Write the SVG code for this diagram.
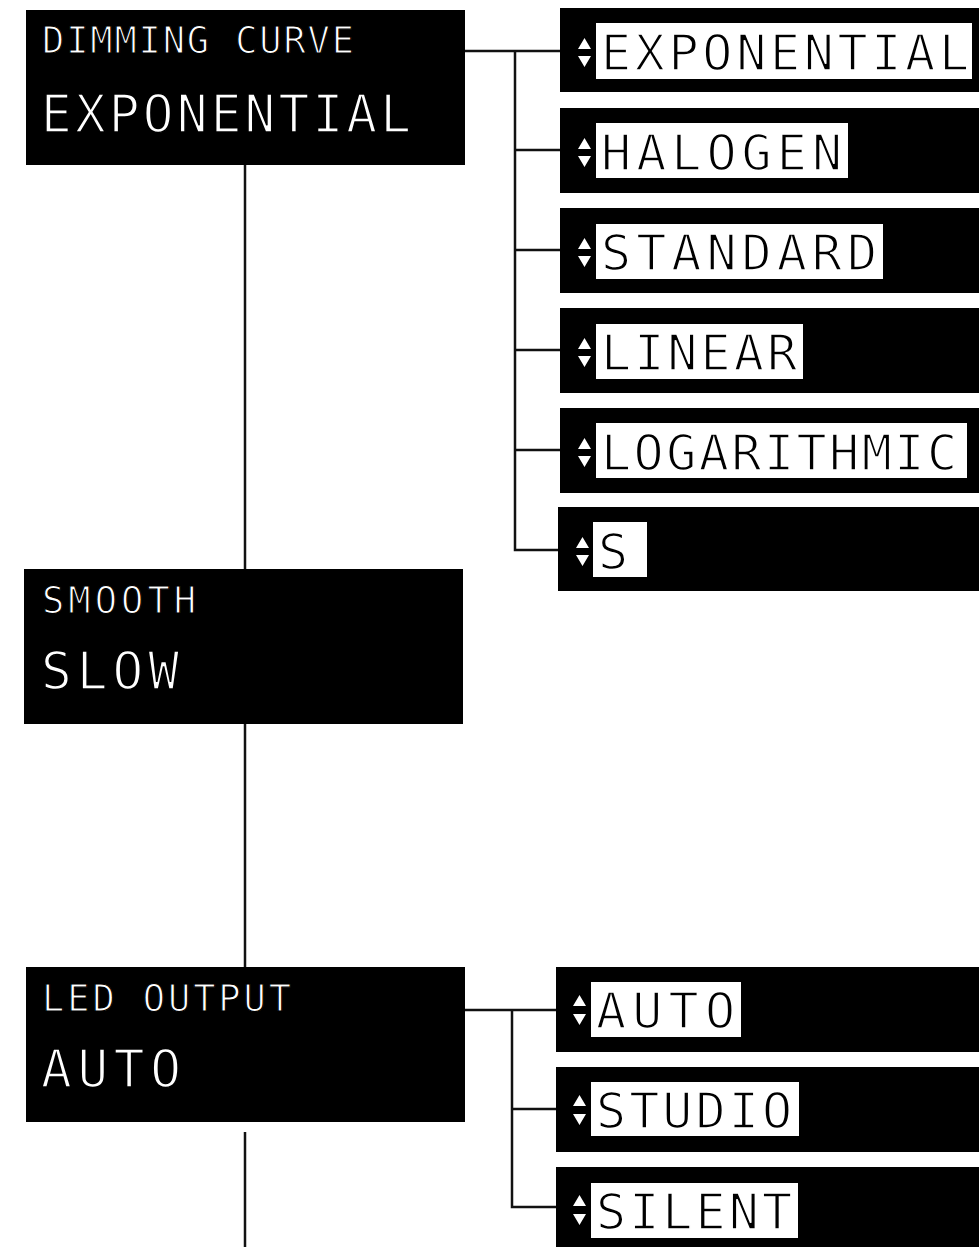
<svg xmlns="http://www.w3.org/2000/svg" width="979" height="1247" viewBox="0 0 979 1247">
<defs>
<style>
.box{fill:#000;}
.hl{fill:#fff;}
.ttl{font-family:"DejaVu Sans Mono","Liberation Mono",monospace;font-size:37px;fill:#fff;stroke:#000;stroke-width:1.2;}
.val{font-family:"DejaVu Sans Mono","Liberation Mono",monospace;font-size:51px;fill:#fff;stroke:#000;stroke-width:1.6;}
.opt{font-family:"DejaVu Sans Mono","Liberation Mono",monospace;font-size:50px;fill:#000;stroke:#fff;stroke-width:1.6;}
.arr{fill:#fff;}
.con{fill:none;stroke:#111;stroke-width:2.5;}
</style>
</defs>
<rect width="979" height="1247" fill="#fff"/>
<g id="connectors">
<path class="con" d="M245,165 V569 M245,724 V967 M245,1132 V1247"/>
<path class="con" d="M465,51 H560 M515,51 V550 H560 M515,150 H560 M515,250 H560 M515,350 H560 M515,450 H560"/>
<path class="con" d="M465,1010 H556 M512,1010 V1207 H556 M512,1109 H556"/>
</g>
<g id="dimming-curve">
<rect class="box" x="26" y="10" width="439" height="155"/>
<text class="ttl" x="42" y="53" textLength="312" lengthAdjust="spacing">DIMMING CURVE</text>
<text class="val" x="41" y="132" textLength="370" lengthAdjust="spacing">EXPONENTIAL</text>
</g>
<g id="smooth">
<rect class="box" x="24" y="569" width="439" height="155"/>
<text class="ttl" x="42" y="613" textLength="154" lengthAdjust="spacing">SMOOTH</text>
<text class="val" x="41" y="689" textLength="138" lengthAdjust="spacing">SLOW</text>
</g>
<g id="led-output">
<rect class="box" x="26" y="967" width="439" height="155"/>
<text class="ttl" x="42" y="1011" textLength="249" lengthAdjust="spacing">LED OUTPUT</text>
<text class="val" x="41" y="1087" textLength="140" lengthAdjust="spacing">AUTO</text>
</g>
<g id="opt-exponential">
<rect class="box" x="560" y="8" width="430" height="84"/>
<path class="arr" d="M578,49 L591,49 L584.5,38 Z M578,56 L591,56 L584.5,67 Z"/>
<rect class="hl" x="596" y="23" width="376" height="56"/>
<text class="opt" x="601" y="70" textLength="368" lengthAdjust="spacing">EXPONENTIAL</text>
</g>
<g id="opt-halogen">
<rect class="box" x="560" y="108" width="430" height="85"/>
<path class="arr" d="M578,149 L591,149 L584.5,138 Z M578,156 L591,156 L584.5,167 Z"/>
<rect class="hl" x="596" y="123" width="252" height="55"/>
<text class="opt" x="601" y="170" textLength="241" lengthAdjust="spacing">HALOGEN</text>
</g>
<g id="opt-standard">
<rect class="box" x="560" y="208" width="430" height="85"/>
<path class="arr" d="M578,249 L591,249 L584.5,238 Z M578,256 L591,256 L584.5,267 Z"/>
<rect class="hl" x="596" y="224" width="287" height="55"/>
<text class="opt" x="601" y="270" textLength="276" lengthAdjust="spacing">STANDARD</text>
</g>
<g id="opt-linear">
<rect class="box" x="560" y="308" width="430" height="85"/>
<path class="arr" d="M578,349 L591,349 L584.5,338 Z M578,356 L591,356 L584.5,367 Z"/>
<rect class="hl" x="596" y="324" width="207" height="55"/>
<text class="opt" x="601" y="370" textLength="196" lengthAdjust="spacing">LINEAR</text>
</g>
<g id="opt-logarithmic">
<rect class="box" x="560" y="408" width="430" height="85"/>
<path class="arr" d="M578,449 L591,449 L584.5,438 Z M578,456 L591,456 L584.5,467 Z"/>
<rect class="hl" x="596" y="423" width="371" height="55"/>
<text class="opt" x="601" y="470" textLength="356" lengthAdjust="spacing">LOGARITHMIC</text>
</g>
<g id="opt-s">
<rect class="box" x="558" y="507" width="430" height="84"/>
<path class="arr" d="M576,548 L589,548 L582.5,537 Z M576,555 L589,555 L582.5,566 Z"/>
<rect class="hl" x="593" y="522" width="54" height="55"/>
<text class="opt" x="598" y="569">S</text>
</g>
<g id="opt-auto">
<rect class="box" x="556" y="967" width="430" height="85"/>
<path class="arr" d="M573,1006 L586,1006 L579.5,995 Z M573,1014 L586,1014 L579.5,1025 Z"/>
<rect class="hl" x="591" y="982" width="150" height="55"/>
<text class="opt" x="596" y="1028" textLength="139" lengthAdjust="spacing">AUTO</text>
</g>
<g id="opt-studio">
<rect class="box" x="556" y="1067" width="430" height="85"/>
<path class="arr" d="M573,1106 L586,1106 L579.5,1095 Z M573,1114 L586,1114 L579.5,1125 Z"/>
<rect class="hl" x="591" y="1082" width="208" height="54"/>
<text class="opt" x="596" y="1128" textLength="196" lengthAdjust="spacing">STUDIO</text>
</g>
<g id="opt-silent">
<rect class="box" x="556" y="1167" width="430" height="90"/>
<path class="arr" d="M573,1206 L586,1206 L579.5,1195 Z M573,1214 L586,1214 L579.5,1225 Z"/>
<rect class="hl" x="591" y="1183" width="207" height="55"/>
<text class="opt" x="596" y="1229" textLength="196" lengthAdjust="spacing">SILENT</text>
</g>
</svg>
